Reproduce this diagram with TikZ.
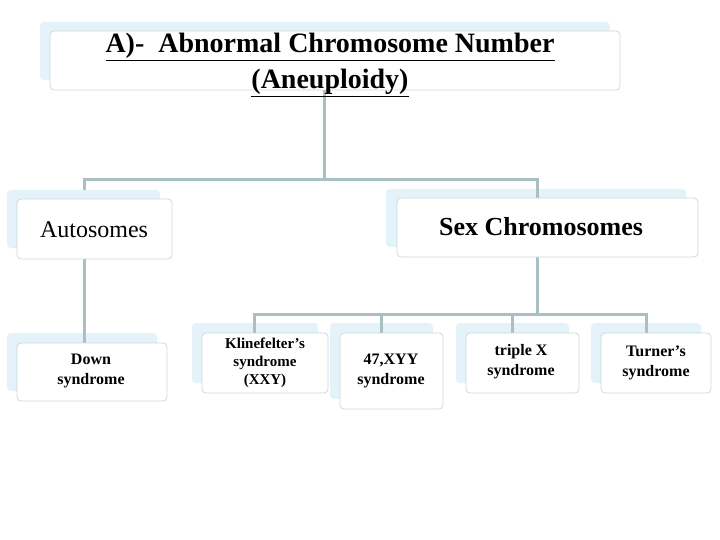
\documentclass[tikz,border=0pt]{standalone}
\usepackage{fontspec}
\setmainfont{Liberation Serif}
\definecolor{ln}{HTML}{A9BFC4}
\definecolor{sh}{HTML}{E3F3F9}
\definecolor{bd}{HTML}{CDD8DC}
\begin{document}
\begin{tikzpicture}[x=1pt,y=-1pt,
  box/.style={draw=bd,line width=0.8pt,rounded corners=4pt,fill=white},
  shad/.style={fill=sh,rounded corners=4pt},
  conn/.style={draw=ln,line width=3pt},
  txt/.style={align=center,inner sep=0pt}]
\useasboundingbox (0,0) rectangle (720,540);
% shadows
\fill[shad] (40,22) rectangle (610,80);
\fill[shad] (7,190) rectangle (160,248);
\fill[shad] (386,189) rectangle (686,247);
\fill[shad] (7,333) rectangle (157,391);
\fill[shad] (192,323) rectangle (318,383);
\fill[shad] (330,323) rectangle (433,399);
\fill[shad] (456,323) rectangle (569,383);
\fill[shad] (591,323) rectangle (701,383);
% connectors
\coordinate (j1) at (324,180);
\coordinate (jl) at (84,180);
\coordinate (jr) at (537,180);
\coordinate (j2) at (537,314);
\coordinate (k1) at (254,314);
\coordinate (k2) at (381,314);
\coordinate (k3) at (512,314);
\coordinate (k4) at (646,314);
\draw[conn] (324,90) -- (j1);
\draw[conn] (jl|-0,190) -- (jl) -- (jr) -- (jr|-0,198);
\draw[conn] (84,259) -- (84,343);
\draw[conn] (537,257) -- (j2);
\draw[conn] (k1|-0,333) -- (k1) -- (k4) -- (k4|-0,333);
\draw[conn] (k2) -- (k2|-0,333);
\draw[conn] (k3) -- (k3|-0,333);
% boxes
\draw[box] (50,31) rectangle (620,90);
\draw[box] (17,199) rectangle (172,259);
\draw[box] (397,198) rectangle (698,257);
\draw[box] (17,343) rectangle (167,401);
\draw[box] (202,333) rectangle (328,393);
\draw[box] (340,333) rectangle (443,409);
\draw[box] (466,333) rectangle (579,393);
\draw[box] (601,333) rectangle (711,393);
% texts
\node[txt,font=\bfseries\fontsize{28}{36}\selectfont] (title) at (330,65) {\underline{A)-\ \ Abnormal Chromosome Number}\\\underline{(Aneuploidy)}};
\node[txt,font=\fontsize{24}{28}\selectfont] (auto) at (94,230) {Autosomes};
\node[txt,font=\bfseries\fontsize{26}{30}\selectfont] (sex) at (541,227) {Sex Chromosomes};
\node[txt,font=\bfseries\fontsize{16}{20}\selectfont] (down) at (91,371) {Down\\syndrome};
\node[txt,font=\bfseries\fontsize{15}{18}\selectfont] (kl) at (265,363) {Klinefelter’s\\syndrome\\(XXY)};
\node[txt,font=\bfseries\fontsize{16}{20}\selectfont] (xyy) at (391,371) {47,XYY\\syndrome};
\node[txt,font=\bfseries\fontsize{16}{20}\selectfont] (tx) at (521,362) {triple X\\syndrome};
\node[txt,font=\bfseries\fontsize{16}{20}\selectfont] (tu) at (656,363) {Turner’s\\syndrome};
\end{tikzpicture}
\end{document}
